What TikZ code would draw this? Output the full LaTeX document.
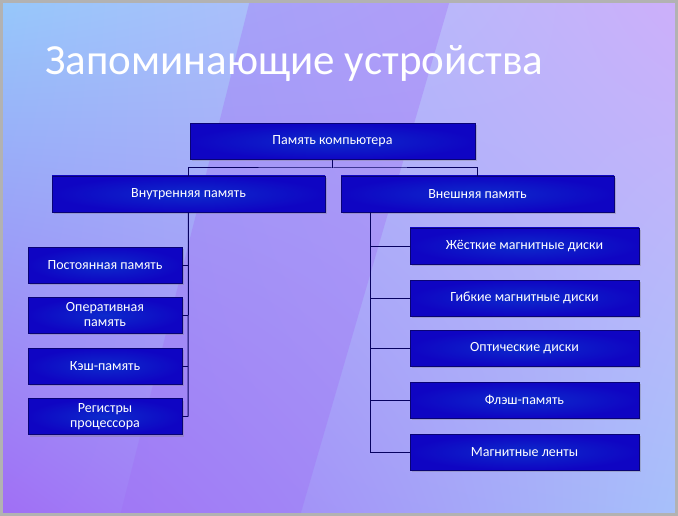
\documentclass[tikz,border=0pt]{standalone}
\usepackage{fontspec}
\setmainfont{Carlito}
\usetikzlibrary{shadows,shadings}
\definecolor{boxblue}{RGB}{15,5,195}
\definecolor{bgblue}{RGB}{150,200,250}
\definecolor{bgpurp}{RGB}{160,110,245}
\definecolor{bglil}{RGB}{205,175,250}
\tikzset{
  box/.style={draw=boxblue!60!black, line width=0.8pt, fill=boxblue, inner color=boxblue!85!cyan, outer color=boxblue, text=white, font=\fontsize{14}{15}\selectfont, align=center, minimum height=36pt, inner sep=2pt, drop shadow={opacity=0.35,shadow xshift=2pt,shadow yshift=-2pt}},
  link/.style={draw=boxblue!50!black, line width=1pt}
}
\begin{document}
\begin{tikzpicture}[x=1pt,y=-1pt]
\useasboundingbox (0,0) rectangle (678,516);
\shade[upper left=bgblue, upper right=bglil, lower left=bgpurp, lower right=bgblue!70!bglil] (0,0) rectangle (678,516);
\fill[bgpurp, opacity=0.35] (250,0) -- (450,0) -- (300,516) -- (120,516) -- cycle;
\draw[gray!60, line width=3pt] (1.5,1.5) rectangle (676.5,514.5);
\node[anchor=west, text=white, font=\fontsize{43}{45}\selectfont, inner sep=0pt] at (45,64) (title) {Запоминающие устройства};
\node[box, minimum width=285pt] (top) at (332.5,141.5) {Память компьютера};
\node[box, minimum width=273pt] (int) at (188.5,194) {Внутренняя память};
\node[box, minimum width=273pt] (ext) at (477.5,194) {Внешняя память};
\foreach \n/\y/\t in {l1/265/Постоянная память, l2/315/{Оперативная\\память}, l3/366/Кэш-память, l4/416.5/{Регистры\\процессора}}
  \node[box, minimum width=154pt, minimum height=36pt] (\n) at (105,\y) {\t};
\foreach \n/\y/\t in {r1/246/Жёсткие магнитные диски, r2/298/Гибкие магнитные диски, r3/348/Оптические диски, r4/400/Флэш-память, r5/452/Магнитные ленты}
  \node[box, minimum width=229pt, minimum height=36pt] (\n) at (524.5,\y) {\t};
\coordinate (j) at (332.5,168);
\draw[link] (top.south) -- (j);
\draw[link] (int.north) |- (j) -| (ext.north);
\coordinate (ib) at (188,416.5);
\draw[link] (int.south) -- (ib);
\foreach \n in {l1,l2,l3,l4} \draw[link] (\n.east) -- (188,0 |- \n.east);
\coordinate (eb) at (370,452);
\draw[link] (370,212) -- (eb);
\foreach \n in {r1,r2,r3,r4,r5} \draw[link] (\n.west) -- (370,0 |- \n.west);
\end{tikzpicture}
\end{document}
